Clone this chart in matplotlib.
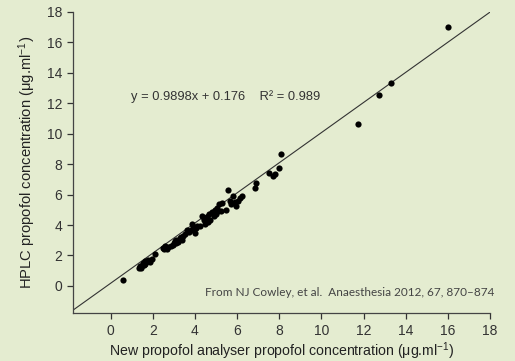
import matplotlib
matplotlib.use("Agg")
import matplotlib.pyplot as plt

x_vals = [0.58, 1.34, 1.40, 1.45, 1.52, 1.58, 1.62, 1.70, 1.75, 1.85, 1.95, 2.10,
          2.50, 2.58, 2.65, 2.70, 2.84, 3.00, 3.05, 3.12, 3.20, 3.30, 3.38, 3.45,
          3.55, 3.62, 3.80, 3.85, 3.92, 4.00, 4.05, 4.12, 4.25, 4.35, 4.42, 4.50,
          4.58, 4.65, 4.72, 4.80, 4.88, 4.95, 5.02, 5.10, 5.15, 5.22, 5.30, 5.55,
          5.65, 5.72, 5.80, 5.88, 5.95, 6.05, 6.12, 6.25, 6.85, 6.90, 7.50, 7.68,
          7.82, 7.98, 8.10, 11.75, 12.75, 13.30, 16.00,
          1.40, 1.55, 2.55, 3.10, 3.35, 3.70, 4.45, 5.05, 4.60, 2.95, 1.65, 5.45]
y_vals = [0.40, 1.15, 1.30, 1.20, 1.50, 1.40, 1.65, 1.55, 1.72, 1.60, 1.80, 2.10,
          2.50, 2.60, 2.42, 2.55, 2.60, 2.85, 2.95, 3.05, 2.90, 3.15, 3.05, 3.30,
          3.40, 3.70, 3.65, 4.05, 3.80, 3.50, 3.78, 3.95, 3.92, 4.60, 4.30, 4.10,
          4.50, 4.70, 4.30, 4.85, 4.60, 5.00, 4.75, 4.95, 5.35, 4.90, 5.45, 6.30,
          5.55, 5.35, 5.90, 5.50, 5.25, 5.60, 5.75, 5.88, 6.45, 6.75, 7.45, 7.20,
          7.35, 7.78, 8.65, 10.65, 12.55, 13.35, 17.00,
          1.25, 1.35, 2.45, 2.80, 3.20, 3.55, 4.45, 5.10, 4.20, 2.70, 1.45, 5.00]

slope = 0.9898
intercept = 0.176
r2 = 0.989
ticks = [0, 2, 4, 6, 8, 10, 12, 14, 16, 18]

plt.rcParams['mathtext.fontset'] = 'custom'
plt.rcParams['mathtext.rm'] = 'Liberation Sans'
plt.rcParams['mathtext.default'] = 'regular'

bg = '#e4ecd0'
fig = plt.figure(figsize=(5.15, 3.61), dpi=100, facecolor=bg)
ax = fig.add_axes([0.1412, 0.1321, 0.8103, 0.8347])
ax.set_facecolor(bg)

xmin, xmax = -1.8, 18
ax.plot([xmin, xmax], [slope * xmin + intercept, slope * xmax + intercept],
        color='#333333', lw=0.8, zorder=2)
ax.scatter(x_vals, y_vals, s=20, color='black', zorder=3, linewidths=0)

ax.set_xlim(xmin, xmax)
ax.set_ylim(-1.8, 18)
ax.set_xticks(ticks)
ax.set_yticks(ticks)
for s in ['top', 'right']:
    ax.spines[s].set_visible(False)
for s in ['left', 'bottom']:
    ax.spines[s].set_color('#444444')
    ax.spines[s].set_linewidth(0.9)
ax.tick_params(colors='#333333', labelsize=10, length=4, width=0.9)
for lab in ax.get_xticklabels() + ax.get_yticklabels():
    lab.set_family('Liberation Sans')

ax.set_xlabel('New propofol analyser propofol concentration (μg.ml$^{-1}$)',
              fontsize=10.2, family='Liberation Sans', color='#222222', labelpad=2)
ax.set_ylabel('HPLC propofol concentration (μg.ml$^{-1}$)',
              fontsize=10.6, family='Liberation Sans', color='#222222', labelpad=6)

ax.text(0.95, 12.45, f'y = {slope}x + {intercept}    R² = {r2}',
        fontsize=9.3, family=['Liberation Sans', 'DejaVu Sans'],
        color='#333333', va='center', ha='left')

ax.annotate('From NJ Cowley, et al.  Anaesthesia 2012, 67, 870–874',
            xy=(18.2, -0.4), fontsize=8.5, family=['Lato', 'DejaVu Sans'],
            color='#444444', va='center', ha='right', annotation_clip=False)

fig.savefig('out.png', dpi=100, facecolor=bg)
